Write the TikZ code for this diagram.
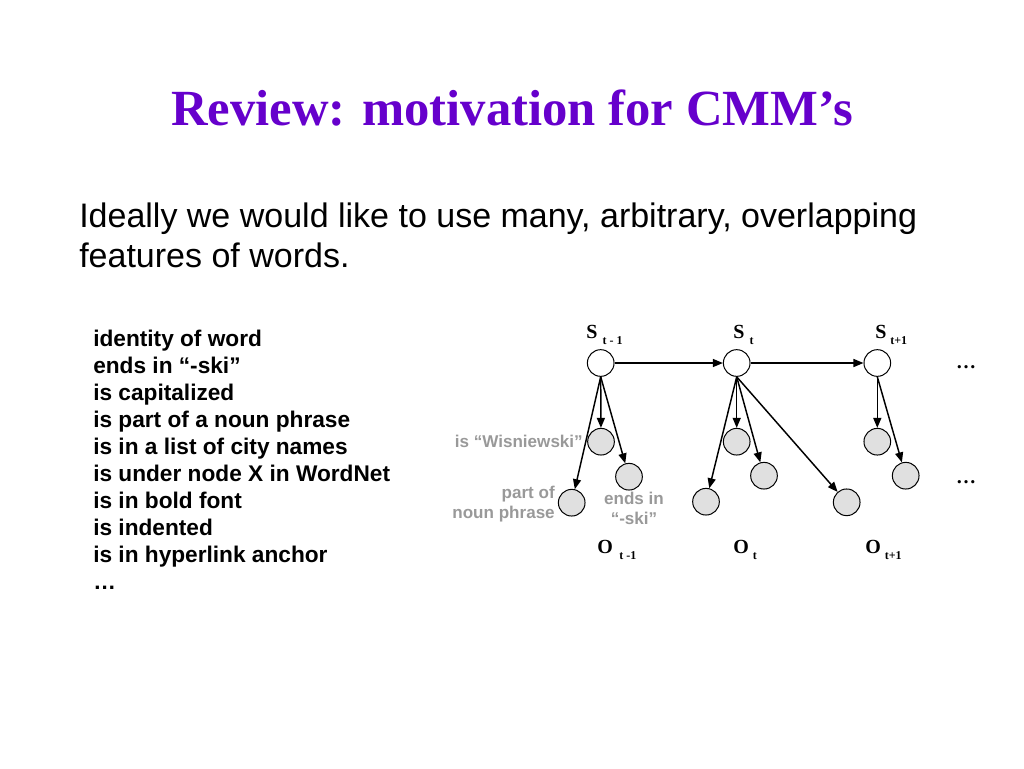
\documentclass[tikz,border=0pt]{standalone}
\usepackage{fontspec}
\setmainfont{Liberation Serif}
\newfontfamily\arialfnt{Liberation Sans}
\usetikzlibrary{arrows.meta}
\definecolor{titlepurple}{HTML}{6600CC}
\definecolor{featgray}{HTML}{999999}
\definecolor{obsfill}{HTML}{E0E0E0}

\begin{document}
\begin{tikzpicture}[x=0.75pt,y=-0.75pt]

% Node styles
\tikzset{
    state/.style={circle,draw,fill=white,minimum size=20pt,inner sep=0pt,line width=0.75pt},
    obs/.style={state,fill=obsfill},
    dep/.style={-{Triangle[length=7.5pt,width=6pt]},line width=1.1pt},
    varlbl/.style={font=\bfseries\fontsize{15}{15}\selectfont,anchor=base west,inner sep=0pt},
    featlbl/.style={font=\arialfnt\bfseries\fontsize{12.8}{15}\selectfont,text=featgray,inner sep=0pt}
}
\useasboundingbox (0,0) rectangle (1024,768);

% Title and text
\node[font=\bfseries\fontsize{38}{45}\selectfont,text=titlepurple] (Title) at (512,108) {Review: motivation for CMM's};
\node[font=\arialfnt\fontsize{25.5}{30}\selectfont,anchor=base west,align=left,inner sep=0pt] (Intro) at (79,267)
    {Ideally we would like to use many, arbitrary, overlapping\\features of words.};
\node[font=\arialfnt\bfseries\fontsize{17}{20.2}\selectfont,anchor=base west,align=left,inner sep=0pt] (Feats) at (93,589)
    {identity of word\\ends in “-ski”\\is capitalized\\is part of a noun phrase\\is in a list of city names\\is under node X in WordNet\\is in bold font\\is indented\\is in hyperlink anchor\\…};

% States
\node[state] (ST1) at (600.7,363) {};
\node[state] (ST2) at (736.7,363) {};
\node[state] (ST3) at (877.3,363) {};

% Observations
\node[obs] (OB1a) at (601,441.7) {};
\node[obs] (OB1b) at (629,476.7) {};
\node[obs] (OB1c) at (571.7,502.7) {};
\node[obs] (OB2a) at (736.7,441.7) {};
\node[obs] (OB2b) at (764,475.7) {};
\node[obs] (OB2c) at (706,501.7) {};
\node[obs] (OB2d) at (846.7,502.3) {};
\node[obs] (OB3a) at (877.3,441.7) {};
\node[obs] (OB3b) at (905.7,475.7) {};

% Connections
\draw[dep] (ST1) -- (ST2);
\draw[dep] (ST2) -- (ST3);
\draw[dep] (ST1.south) -- (OB1a);
\draw[dep] (ST1.south) -- (OB1b);
\draw[dep] (ST1.south) -- (OB1c);
\draw[dep] (ST2.south) -- (OB2a);
\draw[dep] (ST2.south) -- (OB2b);
\draw[dep] (ST2.south) -- (OB2c);
\draw[dep] (ST2.south) -- (OB2d);
\draw[dep] (ST3.south) -- (OB3a);
\draw[dep] (ST3.south) -- (OB3b);

% Labels
\node[varlbl] (LS1) at (586,338) {S\hspace{4pt}\raisebox{-4.5pt}{\fontsize{9}{9}\selectfont t - 1}};
\node[varlbl] (LS2) at (733,338) {S\hspace{4pt}\raisebox{-4.5pt}{\fontsize{9}{9}\selectfont t}};
\node[varlbl] (LS3) at (875,338) {S\hspace{3pt}\raisebox{-4.5pt}{\fontsize{9}{9}\selectfont t+1}};
\node[varlbl] (LO1) at (597,553) {O\hspace{5pt}\raisebox{-5pt}{\fontsize{9}{9}\selectfont t -1}};
\node[varlbl] (LO2) at (733,553) {O\hspace{3pt}\raisebox{-5pt}{\fontsize{9}{9}\selectfont t}};
\node[varlbl] (LO3) at (865,553) {O\hspace{3pt}\raisebox{-5pt}{\fontsize{9}{9}\selectfont t+1}};
\node[featlbl,anchor=base east] (FL1) at (583,447) {is “Wisniewski”};
\node[featlbl,anchor=east,align=right] (FL2) at (555,504) {part of\\noun phrase};
\node[featlbl,align=center] (FL3) at (634,508) {ends in\\“-ski”};
\node[font=\bfseries\fontsize{15}{15}\selectfont] (DT1) at (966,367) {…};
\node[font=\bfseries\fontsize{15}{15}\selectfont] (DT2) at (966,482) {…};
\end{tikzpicture}
\end{document}
